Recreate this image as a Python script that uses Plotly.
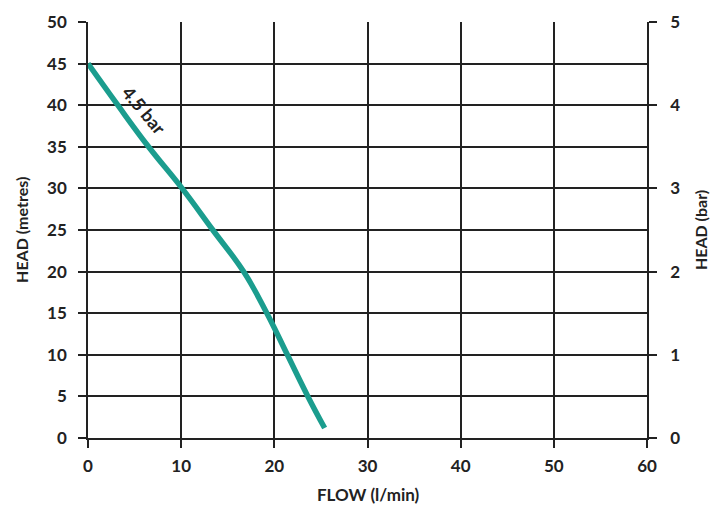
import plotly.graph_objects as go

flow = [0, 3.2, 6.5, 10.1, 13.4, 16.7, 19.2, 21.4, 23.6, 25.4]
head_m = [45, 40, 35, 30, 25, 20, 15, 10, 5, 1.2]
head_bar = [h / 10 for h in head_m]
x_ticks = [0, 10, 20, 30, 40, 50, 60]
y_ticks = [0, 5, 10, 15, 20, 25, 30, 35, 40, 45, 50]
y2_ticks = [0, 1, 2, 3, 4, 5]
curve_label = "4.5 bar"

teal = "#1b9d8e"
grid = "#222222"
font = "Lato"
tfont = dict(family=font, size=17, color="#222", weight="bold")

fig = go.Figure()
fig.add_trace(go.Scatter(x=flow, y=head_m, mode="lines",
                         line=dict(color=teal, width=5.5, shape="spline", smoothing=1.2),
                         showlegend=False, hoverinfo="skip"))
fig.add_trace(go.Scatter(x=flow, y=head_bar, mode="lines", yaxis="y2",
                         line=dict(color="rgba(0,0,0,0)", width=0),
                         showlegend=False, hoverinfo="skip"))

fig.add_annotation(x=6.0, y=39.4, text=curve_label, showarrow=False,
                   textangle=50, font=dict(family=font, size=18, color="#222", weight="bold"))

title_font = dict(family=font, size=16, color="#222", weight="bold")
fig.add_annotation(xref="paper", yref="paper", x=-0.12, y=0.5, text="HEAD (metres)",
                   showarrow=False, textangle=-90, font=title_font, xanchor="center", yanchor="middle")
fig.add_annotation(xref="paper", yref="paper", x=1.095, y=0.5, text="HEAD (bar)",
                   showarrow=False, textangle=-90, font=title_font, xanchor="center", yanchor="middle")
fig.add_annotation(xref="paper", yref="paper", x=0.501, y=-0.136, text="FLOW (l/min)",
                   showarrow=False, font=dict(family=font, size=17, color="#222", weight="bold"),
                   xanchor="center", yanchor="middle")

axis_common = dict(showgrid=True, gridcolor=grid, gridwidth=1.6, zeroline=False, automargin=False,
                   ticks="outside", ticklen=8, tickcolor=grid, tickwidth=1.5,
                   tickfont=tfont, showline=True, linecolor=grid, linewidth=1.6)

fig.update_layout(
    width=713, height=498,
    margin=dict(l=80, r=74, t=14, b=68),
    paper_bgcolor="white", plot_bgcolor="white",
    xaxis=dict(range=[0, 60], tickvals=x_ticks, ticklabelstandoff=4, **axis_common),
    yaxis=dict(range=[0, 50], tickvals=y_ticks, ticklabelstandoff=8, **axis_common),
    yaxis2=dict(range=[0, 5], tickvals=y2_ticks, overlaying="y", side="right",
                showline=True, linecolor=grid, linewidth=1.6, showgrid=False, zeroline=False,
                automargin=False, ticks="outside", ticklen=8, tickcolor=grid, tickwidth=1.5,
                ticklabelstandoff=10, tickfont=tfont),
)

fig.write_html("out.html")
